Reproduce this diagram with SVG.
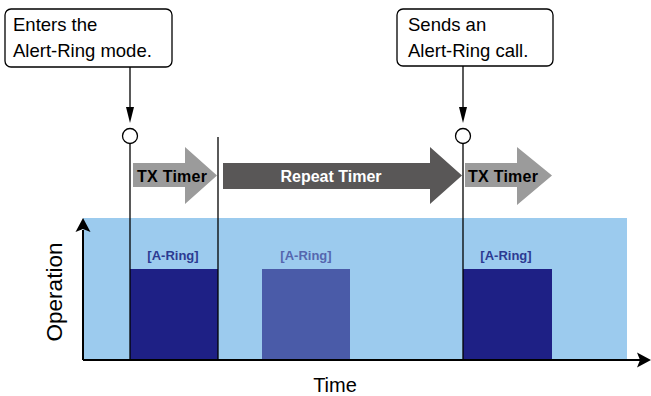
<svg xmlns="http://www.w3.org/2000/svg" width="651" height="396" viewBox="0 0 651 396">
<style>
.note{fill:#fff;stroke:#000;stroke-width:1.3}
.nt{font-family:"Liberation Sans",Arial,sans-serif;font-size:18.5px;fill:#000}
.ax{font-family:"Liberation Sans",Arial,sans-serif;fill:#000}
.tm{font-family:"Liberation Sans",Arial,sans-serif;font-size:16px;font-weight:bold}
.lab{font-family:"Liberation Sans",Arial,sans-serif;font-size:13px;font-weight:bold;text-anchor:middle}
.ln{stroke:#000;stroke-width:1.3;fill:none}
.mk{fill:none;stroke:#000;stroke-width:1.3}
</style>
<defs>
<marker id="ah" markerUnits="userSpaceOnUse" markerWidth="10" markerHeight="18" refX="4" refY="16" orient="auto-start-reverse" viewBox="0 0 8 16">
<path d="M0,0 L8,0 L4,16 Z" fill="#000"/>
</marker>
</defs>
<g id="background">
<rect x="83" y="218" width="544" height="142" fill="#9ccbee"/>
</g>
<g id="block1">
<rect x="130" y="269" width="88" height="91" fill="#1e2085"/>
<text class="lab" x="173" y="260" fill="#2c3a92">[A-Ring]</text>
</g>
<g id="block2">
<rect x="262" y="269" width="88" height="91" fill="#4a5ba8"/>
<text class="lab" x="306" y="260" fill="#5566ae">[A-Ring]</text>
</g>
<g id="block3">
<rect x="463" y="269" width="89" height="91" fill="#1e2085"/>
<text class="lab" x="506" y="260" fill="#2c3a92">[A-Ring]</text>
</g>
<g id="tx1">
<path d="M133,163 H185 V147 L217,175.5 L185,204 V187 H133 Z" fill="#9b9b9b"/>
<text class="tm" x="137" y="182" fill="#000" textLength="70">TX Timer</text>
</g>
<g id="repeat">
<path d="M223,163 H430 V147 L462,175.5 L430,204 V189 H223 Z" fill="#595757"/>
<text class="tm" x="331" y="182" fill="#fff" text-anchor="middle">Repeat Timer</text>
</g>
<g id="tx2">
<path d="M465,163 H517 V147 L552,175.5 L517,205 V187 H465 Z" fill="#9b9b9b"/>
<text class="tm" x="468" y="182" fill="#000" textLength="70">TX Timer</text>
</g>
<g id="note1">
<rect class="note" x="5" y="9" width="167" height="58" rx="6"/>
<text class="nt" x="13" y="31">Enters the</text>
<text class="nt" x="13" y="57">Alert-Ring mode.</text>
</g>
<g id="note2">
<rect class="note" x="397" y="9" width="156" height="57" rx="6"/>
<text class="nt" x="408" y="31">Sends an</text>
<text class="nt" x="408" y="57">Alert-Ring call.</text>
</g>
<g id="connectors">
<line class="ln" x1="130" y1="67" x2="130" y2="107"/>
<path d="M126,107 L134,107 L130,123 Z" fill="#000"/>
<line class="ln" x1="463" y1="66" x2="463" y2="107"/>
<path d="M459,107 L467,107 L463,123 Z" fill="#000"/>
<circle class="mk" cx="130" cy="136" r="7.5"/>
<circle class="mk" cx="463" cy="136" r="7.5"/>
<line class="ln" x1="130" y1="143.5" x2="130" y2="360"/>
<line class="ln" x1="218" y1="137" x2="218" y2="360"/>
<line class="ln" x1="463" y1="143.5" x2="463" y2="360"/>
</g>
<g id="axes">
<line x1="83" y1="360" x2="83" y2="230" stroke="#000" stroke-width="2"/>
<path d="M83,218 L90.5,232 L83,229 L75.5,232 Z" fill="#000"/>
<line x1="83" y1="360" x2="640" y2="360" stroke="#000" stroke-width="2"/>
<path d="M651,360 L637,352.5 L640,360 L637,367.5 Z" fill="#000"/>
<text class="ax" x="335" y="392" font-size="20" text-anchor="middle">Time</text>
<text class="ax" font-size="22.5" text-anchor="middle" transform="translate(62,292) rotate(-90)">Operation</text>
</g>
</svg>
